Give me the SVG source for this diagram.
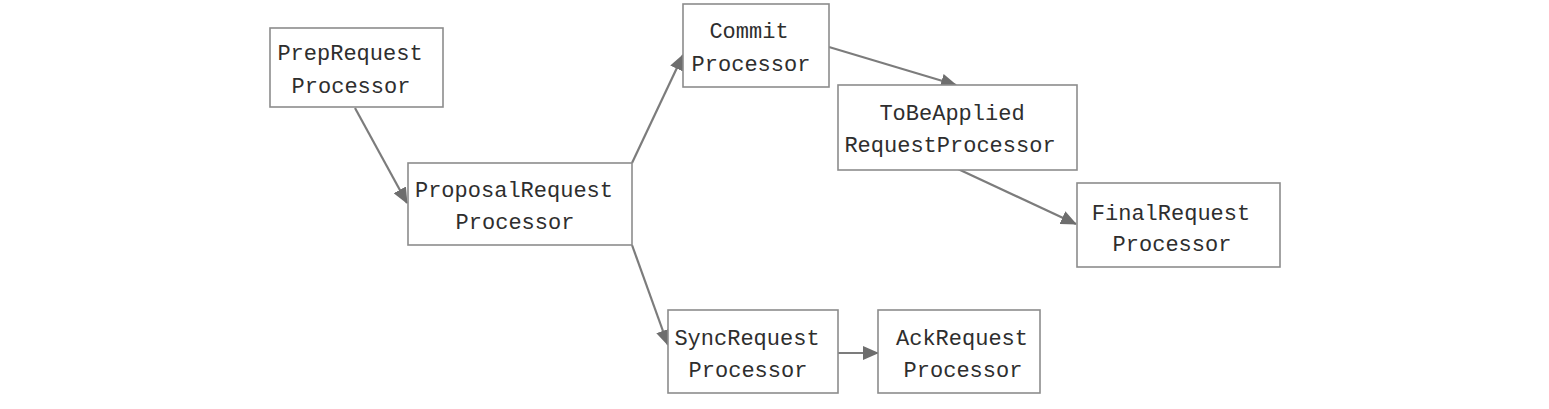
<svg xmlns="http://www.w3.org/2000/svg" width="1549" height="409" viewBox="0 0 1549 409">
<style>
.box{fill:#ffffff;stroke:#8c8c8c;stroke-width:1.6}
.lbl{font-family:"Liberation Mono","DejaVu Sans Mono",monospace;font-size:22px;fill:#2e2e2e;text-anchor:middle}
.edge{stroke:#7c7c7c;stroke-width:2.2;fill:none;marker-end:url(#arr)}
</style>
<defs>
<marker id="arr" markerUnits="userSpaceOnUse" markerWidth="16" markerHeight="14" refX="15" refY="7" orient="auto">
<path d="M0,0 L16,7 L0,14 Z" fill="#6e6e6e"/>
</marker>
</defs>
<rect width="1549" height="409" fill="#ffffff"/>
<g id="connectors">
<line class="edge" x1="355" y1="108" x2="407" y2="203"/>
<line class="edge" x1="632" y1="163" x2="683" y2="55"/>
<line class="edge" x1="829" y1="47" x2="956" y2="85"/>
<line class="edge" x1="958" y1="169" x2="1076" y2="224"/>
<line class="edge" x1="632" y1="245" x2="668" y2="345"/>
<line class="edge" x1="838" y1="353" x2="878" y2="353"/>
</g>
<g id="prep">
<rect class="box" x="270" y="28" width="173" height="79"/>
<text class="lbl" x="350" y="60">PrepRequest</text>
<text class="lbl" x="351" y="93">Processor</text>
</g>
<g id="proposal">
<rect class="box" x="408" y="163" width="224" height="82"/>
<text class="lbl" x="514" y="197">ProposalRequest</text>
<text class="lbl" x="515" y="229">Processor</text>
</g>
<g id="commit">
<rect class="box" x="683" y="4" width="146" height="83"/>
<text class="lbl" x="749" y="38">Commit</text>
<text class="lbl" x="751" y="71">Processor</text>
</g>
<g id="tobeapplied">
<rect class="box" x="838" y="85" width="239" height="85"/>
<text class="lbl" x="952" y="120">ToBeApplied</text>
<text class="lbl" x="950" y="152">RequestProcessor</text>
</g>
<g id="final">
<rect class="box" x="1077" y="183" width="203" height="84"/>
<text class="lbl" x="1171" y="220">FinalRequest</text>
<text class="lbl" x="1172" y="251">Processor</text>
</g>
<g id="sync">
<rect class="box" x="668" y="310" width="170" height="83"/>
<text class="lbl" x="747" y="345">SyncRequest</text>
<text class="lbl" x="748" y="377">Processor</text>
</g>
<g id="ack">
<rect class="box" x="878" y="310" width="162" height="83"/>
<text class="lbl" x="962" y="345">AckRequest</text>
<text class="lbl" x="963" y="377">Processor</text>
</g>
</svg>
